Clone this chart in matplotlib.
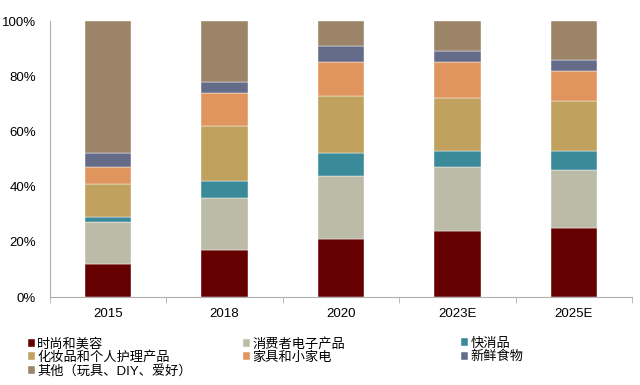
import numpy as np
import matplotlib
matplotlib.use("Agg")
import matplotlib.pyplot as plt
from matplotlib.ticker import FixedLocator, PercentFormatter

plt.rcParams['font.family'] = ['Liberation Sans', 'Noto Sans CJK SC', 'DejaVu Sans']

years = ["2015", "2018", "2020", "2023E", "2025E"]
labels = ["时尚和美容", "消费者电子产品", "快消品", "化妆品和个人护理产品",
          "家具和小家电", "新鲜食物", "其他（玩具、DIY、爱好）"]
fashion = [12, 17, 21, 24, 25]
electronics = [15, 19, 23, 23, 21]
fmcg = [2, 6, 8, 6, 7]
cosmetics = [12, 20, 21, 19, 18]
furniture = [6, 12, 12, 13, 11]
fresh = [5, 4, 6, 4, 4]
other = [48, 22, 9, 11, 14]
series = [fashion, electronics, fmcg, cosmetics, furniture, fresh, other]
colors = ["#660000", "#BBBBA8", "#3A8A9A", "#C1A15E", "#E0955E", "#646C8A", "#9C8468"]

fig = plt.figure(figsize=(6.4, 3.85), dpi=100)
ax = fig.add_axes([50 / 640, (385 - 297) / 385, 582 / 640, 276 / 385])

x = np.arange(len(years))
bottom = np.zeros(len(years))
bars = []
for vals, c, lab in zip(series, colors, labels):
    b = ax.bar(x, vals, 0.4, bottom=bottom, color=c, label=lab,
               edgecolor="white", linewidth=0.3)
    bars.append(b)
    bottom += np.array(vals)

ax.set_xlim(-0.5, len(years) - 0.5)
ax.set_ylim(0, 100)
ax.set_yticks(range(0, 101, 20))
ax.yaxis.set_major_formatter(PercentFormatter(decimals=0))
ax.set_xticks(x)
ax.set_xticklabels(years)
ax.xaxis.set_minor_locator(FixedLocator(np.arange(-0.5, len(years), 1.0)))
ax.tick_params(axis="x", which="major", length=0, pad=8, labelsize=9.5)
ax.tick_params(axis="x", which="minor", length=4, color="#B0B0B0")
ax.tick_params(axis="y", length=0, pad=10, labelsize=9.5)
for s in ["top", "right"]:
    ax.spines[s].set_visible(False)
for s in ["left", "bottom"]:
    ax.spines[s].set_color("#B0B0B0")

# legend in three columns placed like the original
cols = [([0, 3, 6], 28), ([1, 4], 243), ([2, 5], 461)]
for idx, px in cols:
    fig.legend([bars[i] for i in idx], [labels[i] for i in idx],
               loc="upper left", bbox_to_anchor=(px / 640, 1 - 338 / 385),
               frameon=False, fontsize=9.5, handlelength=0.55, handleheight=0.55,
               handletextpad=0.15, labelspacing=0.05, borderpad=0, borderaxespad=0)

fig.savefig("out.png", dpi=100)
